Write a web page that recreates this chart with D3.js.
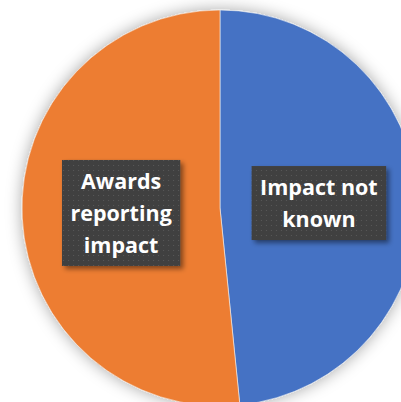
<!DOCTYPE html>
<html>
<head>
<meta charset="utf-8">
<script src="https://cdn.jsdelivr.net/npm/d3@7"></script>
<style>
  html, body { margin: 0; padding: 0; background: #ffffff; }
  svg { display: block; }
</style>
</head>
<body>
<svg id="chart" width="401" height="402"></svg>
<script>
// Share of awards by impact status (percent)
const categories = ["Impact not known", "Awards reporting impact"];
const values = [48.4, 51.6];
const labelLines = [["Impact not", "known"], ["Awards", "reporting", "impact"]];
const colors = ["#4472C4", "#ED7D31"];

const W = 401, H = 402;
const cx = 220, cy = 208, R = 198;

const svg = d3.select("#chart");
const defs = svg.append("defs");

// soft halo around the pie
const halo = defs.append("filter").attr("id", "halo")
  .attr("x", "-20%").attr("y", "-20%").attr("width", "140%").attr("height", "140%");
halo.append("feDropShadow").attr("dx", 0).attr("dy", 0)
  .attr("stdDeviation", 8).attr("flood-color", "#000").attr("flood-opacity", 0.35);

// drop shadow for the label boxes
const boxShadow = defs.append("filter").attr("id", "boxShadow")
  .attr("x", "-20%").attr("y", "-20%").attr("width", "150%").attr("height", "150%");
boxShadow.append("feDropShadow").attr("dx", 3).attr("dy", 3)
  .attr("stdDeviation", 2.5).attr("flood-color", "#000").attr("flood-opacity", 0.45);

// dotted fill for the label boxes
const pat = defs.append("pattern").attr("id", "dots")
  .attr("patternUnits", "userSpaceOnUse").attr("width", 5).attr("height", 5);
pat.append("rect").attr("width", 5).attr("height", 5).attr("fill", "#404040");
pat.append("rect").attr("x", 2).attr("y", 2).attr("width", 1).attr("height", 1).attr("fill", "#5a5a5a");

const pie = d3.pie().sort(null).value(d => d)(values);
const arc = d3.arc().innerRadius(0).outerRadius(R);

const g = svg.append("g").attr("transform", `translate(${cx},${cy})`);

g.append("g").attr("filter", "url(#halo)")
  .selectAll("path").data(pie).join("path")
  .attr("d", arc)
  .attr("fill", (d, i) => colors[i])
  .attr("stroke", "#f2f2f2").attr("stroke-width", 0.6);

const lineH = 32;
const labels = g.selectAll("g.label").data(pie).join("g")
  .attr("class", "label")
  .attr("transform", d => `translate(${arc.centroid(d)})`);

labels.each(function(d, i) {
  const sel = d3.select(this);
  const lines = labelLines[i];
  const box = sel.append("rect").attr("fill", "url(#dots)").attr("filter", "url(#boxShadow)");
  const text = sel.append("text")
    .attr("text-anchor", "middle")
    .attr("fill", "#ffffff")
    .attr("font-family", "'Open Sans', Lato, sans-serif")
    .attr("font-weight", "bold")
    .attr("font-size", 21.5);
  lines.forEach((ln, k) => {
    text.append("tspan").attr("x", 0)
      .attr("y", (k - (lines.length - 1) / 2) * lineH)
      .attr("dy", "0.36em")
      .text(ln);
  });
  const bb = text.node().getBBox();
  const padX = 8.5;
  const h = lines.length * lineH + 10;
  box.attr("x", bb.x - padX).attr("width", bb.width + 2 * padX)
     .attr("y", -h / 2).attr("height", h);
});
</script>
</body>
</html>
